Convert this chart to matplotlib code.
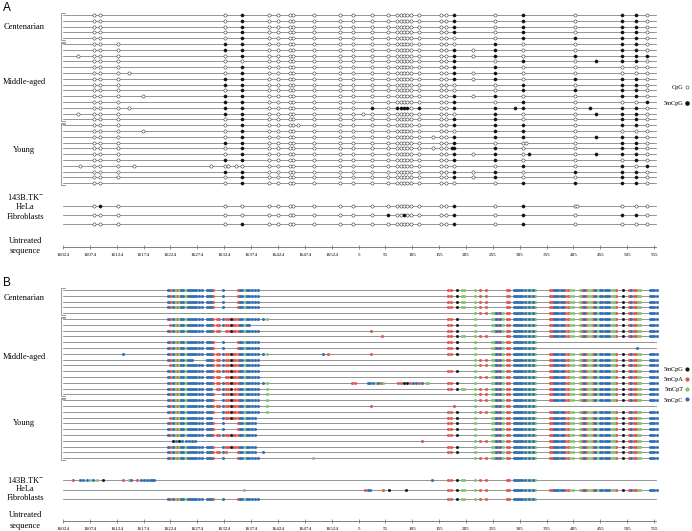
import matplotlib
matplotlib.use("Agg")
import matplotlib.pyplot as plt
from matplotlib.lines import Line2D

plt.rcParams["font.family"] = ["Liberation Serif", "DejaVu Serif"]
plt.rcParams["mathtext.fontset"] = "stix"

# mtDNA window: 16024 .. 16569 | 1 .. 558
START, MT_LEN, LINE_END = 16024, 16569, 558

TICKS = [16024, 16074, 16124, 16174, 16224, 16274, 16324, 16374, 16424, 16474, 16524,
         5, 55, 105, 155, 205, 255, 305, 355, 405, 455, 505, 555]

GROUPS = ["Centenarian", "Middle-aged", "Young"]
GROUP_SIZES = [5, 14, 11]
CELL_LINES = ["143B.TK$^{-}$", "HeLa", "Fibroblasts"]

# ---- panel A: CpG sites present in every clone
CPG_SITES = [16081, 16092, 16325, 16357, 16408, 16424, 16447, 16452, 16492, 16539, 16563,
             31, 59, 76, 85, 90, 95, 103, 118, 159, 168, 183, 259, 312, 408, 495, 521, 541]

# methylated CpG per clone (30 tissue clones, then 143B, HeLa, fibroblasts)
A_METH = [
    [16357, 183, 312, 495, 521],
    [16357, 183, 312, 495, 521],
    [16357, 183, 312, 495, 521],
    [16357, 183, 312, 495, 521],
    [16357, 312, 408, 495, 521],
    [16325, 16357, 259, 495, 521],
    [16325, 16357, 183, 259, 495, 521],
    [16357, 183, 259, 408, 495, 521, 541],
    [183, 312, 447, 495, 521],
    [16357, 183, 259],
    [16357, 183, 259],
    [16325, 16357, 183, 259, 408, 495, 521],
    [16325, 16357, 312, 495, 521],
    [16357, 312, 408, 495, 521],
    [16325, 16357, 183, 259, 495, 521],
    [16325, 16357, 183, 312, 541],
    [16325, 16357, 31, 76, 85, 90, 95, 118, 183, 259, 297, 312, 436, 495, 521],
    [16325, 16357, 259, 447, 495, 521],
    [16357, 183, 259, 495, 521],
    [16357, 183, 259, 312, 495, 521],
    [16357, 259, 312],
    [16357, 183, 259, 312, 447, 495, 521],
    [16325, 16357, 183, 495, 521],
    [16357, 179, 183, 259, 495, 521],
    [16357, 183, 259, 323, 447, 495, 521],
    [16325, 16357, 183, 259, 521],
    [312, 495, 541],
    [16325, 16357, 183, 259, 408, 495, 521],
    [16357, 183, 259, 495, 521],
    [16357, 312, 408, 495, 521],
    [16092, 183, 312],
    [59, 90, 183, 312, 495, 521],
    [16357, 183, 312],
]

# extra (unmethylated) CpG seen only in some clones
A_EXTRA = [
    [], [], [], [], [],
    [16126], [16126, 218], [16126, 16052, 218], [16126], [16126],
    [16126, 16147, 218], [16126, 218], [16126], [16126], [16126, 16172, 218],
    [16126], [16126, 16147], [16126, 16052, 13], [16126],
    [16126, 16461], [16126, 16172], [16126, 144], [16126, 316], [16126, 144],
    [16126, 218], [16126], [16126, 16055, 16157, 16300, 16331, 16346],
    [16126, 218], [16126, 218], [],
    [16126, 412], [16126], [16126],
]

# ---- panel B: non-CpG methylation sites and their context (K=CpG, R=CpA, G=CpT, B=CpC)
B_SITE_POS = [16220, 16224, 16228, 16232, 16236, 16240, 16244, 16248, 16252, 16256, 16260,
              16264, 16268, 16272, 16277, 16282, 16292, 16296, 16300, 16304, 16310, 16314,
              16321, 16328, 16332, 16336, 16340, 16344, 16350, 16354, 16358, 16362, 16366,
              16370, 16376, 16381, 16386, 16396, 16404,
              172, 177, 188, 197, 201, 222, 231, 242, 253, 257, 261, 265, 269, 273, 281, 286,
              294, 298, 302, 306, 310, 314, 318, 322, 326, 330, 334, 361, 365, 369, 373, 377,
              381, 385, 389, 394, 399, 404, 417, 421, 425, 429, 433, 437, 441, 445, 449, 455,
              459, 463, 467, 471, 476, 480, 485, 498, 509, 513, 517, 521, 525, 529, 547, 551,
              555, 560]
B_SITE_CTX = ("BRBGRGBBGBBBBBBB" "BBBR" "RR" "B" "RRKRR" "RBBGBBBBB" "BG"
              "RRK" "GG" "GRR" "GGBRBG" "RR" "BBBBBBGBGBG" "RRBBBBBRRG" "G"
              "GRBRGGRBG" "BBBBBGGR" "K" "RBRRGG" "BBBB")

LC = [(16220, 16304), (16321, 16321), (16350, 16386)]
S1, S1a, S2, S2a = (172, 201), (172, 188), (222, 242), (222, 222)
S3, S4, S5 = (253, 273), (281, 334), (361, 560)

# methylated stretches per clone
B_RANGES = [
    LC + [S1, S2, S4, S5],
    LC + [S1, S2, S4, S5],
    LC + [S1, S2, S4, S5],
    LC + [S1, S2, S4, S5],
    [S2, S3, S4, S5],
    [(16220, 16404), S1a, S2a, S3, S4, S5],
    [(16224, 16344), (16350, 16370), S1a, S2a, S3, S4, S5],
    [(16220, 16314), (16328, 16386), S1a, S2a, S3, S4, S5],
    [S1, S2, S4, S5],
    LC + [S1a, S2a, S3, S4],
    LC + [S1a, S2a, S3, S4],
    [(16220, 16404), S1a, S2a, S3, S4, S5],
    [(16220, 16264), (16292, 16386), S2, S3, S4, S5],
    [(16224, 16314), (16321, 16386), S2, S3, S4, S5],
    [(16220, 16386), S1a, S2a, S3, S4, S5],
    [(16220, 16314), (16328, 16386), S2, S3, S4, S5],
    [(16220, 16404), S1a, S2a, S3, S4, S5],
    [(16220, 16300), (16310, 16336), (16344, 16386), (16404, 16404), S1, S2, S3, S4, S5],
    [(16220, 16304), (16321, 16386), (16404, 16404), S2, S3, S4, S5],
    [(16220, 16304), (16321, 16386), (16404, 16404), S2, S3, S4, S5],
    [(16220, 16386), (16404, 16404), S2a, S3, S4],
    [(16220, 16304), (16321, 16386), (16404, 16404), S1a, S2, S3, S4, S5],
    [(16224, 16300), (16321, 16381), S1a, S2a, S3, S4, S5],
    [(16220, 16304), (16321, 16321), (16350, 16381), S1a, S2a, S3, S4, S5],
    [(16220, 16304), (16321, 16321), (16350, 16381), S1a, S2a, S3, S4, S5],
    [(16220, 16314), (16321, 16381), S1a, S2a, S3, S4, S5],
    [S2, S3, S4, S5],
    [(16220, 16304), (16321, 16344), (16350, 16381), S1a, S2a, S3, S4, S5],
    [(16220, 16314), (16321, 16321), (16328, 16328), (16350, 16381), (16396, 16396),
     S1a, S2a, S3, S4, S5],
    LC + [S2, S3, S4, S5],
    [S1, S2, S4],
    [S1, S2, S4, S5],
    LC + [S1, S2, S4],
]

# isolated methylated sites outside the stretches
B_EXTRA = {
    7: [(28, "R")],
    8: [(49, "R")],
    10: [(524, "B")],
    11: [(16136, "B"), (16508, "B"), (16517, "R"), (28, "R")],
    16: [(16561, "R"), (16567, "R"), (22, "B"), (27, "B"), (32, "B"), (37, "G"), (42, "B"),
         (47, "R"), (51, "G"), (78, "R"), (84, "R"), (90, "K"), (95, "K"), (100, "R"),
         (106, "B"), (112, "B"), (118, "R"), (124, "B"), (130, "G"), (135, "G")],
    20: [(28, "R"), (183, "R")],
    26: [(16228, "K"), (16234, "B"), (16240, "K"), (16246, "B"), (16252, "B"), (16258, "B"),
         (16264, "B"), (16270, "B"), (124, "R")],
    29: [(16490, "G")],
    30: [(16042, "R"), (16056, "B"), (16061, "B"), (16069, "B"), (16074, "G"), (16079, "B"),
         (16088, "G"), (16098, "K"), (16136, "R"), (16146, "G"), (16150, "B"), (16161, "R"),
         (16170, "B"), (16175, "B"), (16180, "B"), (16185, "B"), (16190, "B"), (16194, "B"),
         (141, "B")],
    31: [(16360, "G"), (17, "R"), (22, "B"), (27, "B"), (50, "R"), (62, "K"), (93, "K")],
}

CTX_COLORS = {"K": "#161616", "R": "#e4534b", "G": "#80c46c", "B": "#2f6db3"}
B_LEGEND = [("5mCpG", "K"), ("5mCpA", "R"), ("5mCpT", "G"), ("5mCpC", "B")]

LINE_C = "#6a6a6a"
ROW_STEP = 5.8
MS_A, MS_B = 2.3, 2.0


def to_x(pos):
    return pos - START if pos >= START else pos + MT_LEN - START


def row_ys(top, cells):
    ys = [top + ROW_STEP * i for i in range(sum(GROUP_SIZES))]
    return ys + cells


def draw_frame(ax, top, cells, label_ys, cell_label_ys, axis_y, untreated_ys):
    ys = row_ys(top, cells)
    x0, x1 = to_x(START), to_x(LINE_END)
    for y in ys:
        ax.plot([x0, x1], [y, y], color=LINE_C, lw=0.5, zorder=1)
    # brackets
    i = 0
    for k, n in enumerate(GROUP_SIZES):
        yt, yb = ys[i] - 2, ys[i + n - 1] + 2
        ax.plot([3, -4, -4, 3], [yt, yt, yb, yb], color="#8a8a8a", lw=0.6)
        if k > 0:
            ax.plot([-4, 3], [yt + 1.2, yt + 1.2], color="#8a8a8a", lw=0.5)
        i += n
    for name, y in zip(GROUPS, label_ys):
        ax.text(-72, y, name, ha="center", va="center", fontsize=6)
    for name, y in zip(CELL_LINES, cell_label_ys):
        ax.text(-70, y, name, ha="center", va="center", fontsize=6)
    for txt, y in zip(["Untreated", "sequence"], untreated_ys):
        ax.text(-70, y, txt, ha="center", va="center", fontsize=6)
    xs = [to_x(t) for t in TICKS]
    ax.plot([xs[0], x1], [axis_y, axis_y], color=LINE_C, lw=0.6)
    ax.vlines(xs, axis_y - 2, axis_y + 2.3, color=LINE_C, lw=0.5)
    for x, t in zip(xs, TICKS):
        ax.text(x, axis_y + 8.3, str(t), ha="center", va="center", fontsize=3.7)
    return ys


fig = plt.figure(figsize=(6.92, 5.31), dpi=100)
ax = fig.add_axes([0, 0, 1, 1])
ax.set_xlim(-63 / 0.5373, (692 - 63) / 0.5373)
ax.set_ylim(531, 0)
ax.axis("off")

# ---------------- panel A
ys_a = draw_frame(ax, 15, [206, 215, 224], [27, 82, 150], [197, 207, 217], 247, [241, 251])
for y, meth, extra in zip(ys_a, A_METH, A_EXTRA):
    sites = set(CPG_SITES) | set(extra) | set(meth)
    xo = [to_x(p) for p in sites if p not in meth]
    xf = [to_x(p) for p in meth]
    ax.plot(xo, [y] * len(xo), ls="none", marker="o", ms=MS_A, mfc="white",
            mec="#3a3a3a", mew=0.4, zorder=3)
    ax.plot(xf, [y] * len(xf), ls="none", marker="o", ms=MS_A, mfc="#111111",
            mec="#111111", mew=0.3, zorder=3)

fig.legend(
    handles=[Line2D([], [], ls="none", marker="o", ms=MS_A, mfc="white", mec="#3a3a3a", mew=0.4),
             Line2D([], [], ls="none", marker="o", ms=MS_A, mfc="#111111", mec="#111111")],
    labels=["CpG", "5mCpG"], markerfirst=False, frameon=False, fontsize=4.5,
    loc="upper right", bbox_to_anchor=(689 / 692, 1 - 85 / 531), borderpad=0,
    borderaxespad=0, handlelength=0.6, handletextpad=0.3, labelspacing=1.6)

# ---------------- panel B
ys_b = draw_frame(ax, 290, [480, 489.5, 499], [298, 357, 423], [480, 489, 498], 521, [515, 526])
for r, (y, ranges) in enumerate(zip(ys_b, B_RANGES)):
    pts = [(p, c) for p, c in zip(B_SITE_POS, B_SITE_CTX)
           if any(lo <= p <= hi for lo, hi in ranges)]
    pts += B_EXTRA.get(r, [])
    for ctx in "RGBK":
        xs = [to_x(p) for p, c in pts if c == ctx]
        ax.plot(xs, [y] * len(xs), ls="none", marker="o", ms=MS_B, mfc=CTX_COLORS[ctx],
                mec=CTX_COLORS[ctx], mew=0.2, zorder=3)

fig.legend(
    handles=[Line2D([], [], ls="none", marker="o", ms=MS_B, mfc=CTX_COLORS[c], mec=CTX_COLORS[c])
             for _, c in B_LEGEND],
    labels=[n for n, _ in B_LEGEND], markerfirst=False, frameon=False, fontsize=4.5,
    loc="upper right", bbox_to_anchor=(689 / 692, 1 - 367 / 531), borderpad=0,
    borderaxespad=0, handlelength=0.6, handletextpad=0.3, labelspacing=0.75)

ax.text(-112, 8, "A", fontsize=8.5, family="Liberation Sans", va="center", ha="left")
ax.text(-112, 283, "B", fontsize=8.5, family="Liberation Sans", va="center", ha="left")

fig.savefig("out.png", dpi=100)
